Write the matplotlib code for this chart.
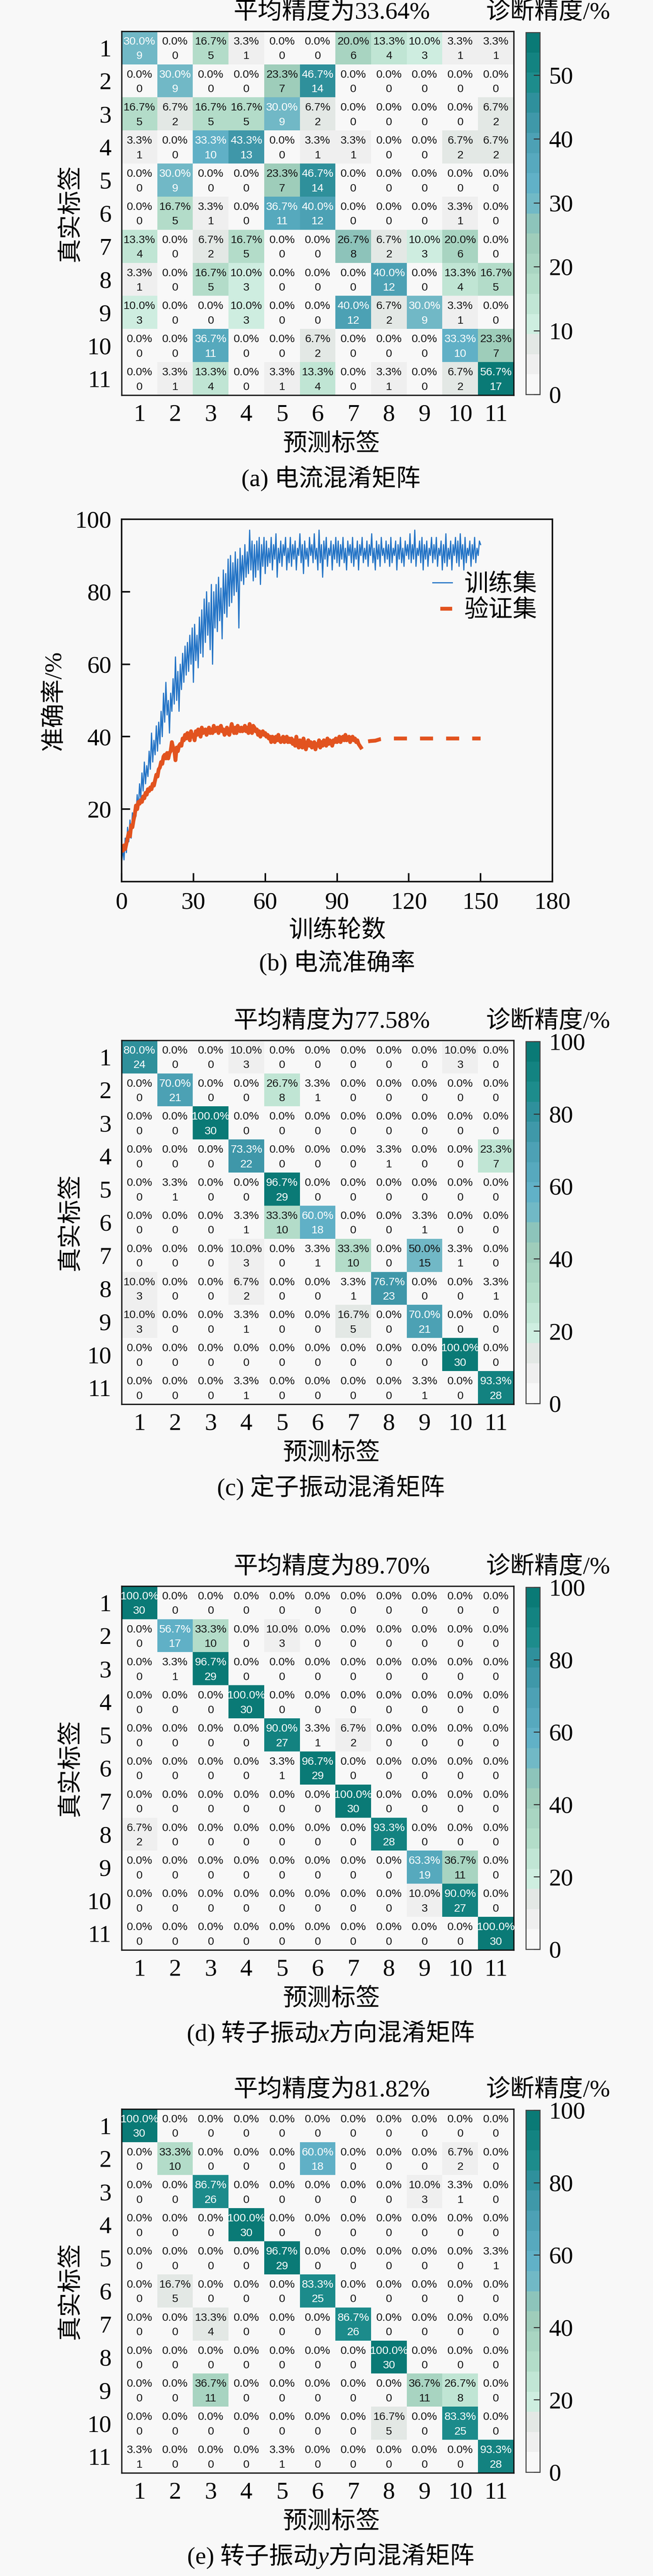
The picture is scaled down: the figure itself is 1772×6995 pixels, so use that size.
import numpy as np
import matplotlib
matplotlib.use('Agg')
import matplotlib.pyplot as plt
from matplotlib.colors import LinearSegmentedColormap
from matplotlib.offsetbox import TextArea, HPacker, AnnotationBbox

# ---------------- data ----------------
class_labels = ['1', '2', '3', '4', '5', '6', '7', '8', '9', '10', '11']

cm_current = [
    [9, 0, 5, 1, 0, 0, 6, 4, 3, 1, 1],
    [0, 9, 0, 0, 7, 14, 0, 0, 0, 0, 0],
    [5, 2, 5, 5, 9, 2, 0, 0, 0, 0, 2],
    [1, 0, 10, 13, 0, 1, 1, 0, 0, 2, 2],
    [0, 9, 0, 0, 7, 14, 0, 0, 0, 0, 0],
    [0, 5, 1, 0, 11, 12, 0, 0, 0, 1, 0],
    [4, 0, 2, 5, 0, 0, 8, 2, 3, 6, 0],
    [1, 0, 5, 3, 0, 0, 0, 12, 0, 4, 5],
    [3, 0, 0, 3, 0, 0, 12, 2, 9, 1, 0],
    [0, 0, 11, 0, 0, 2, 0, 0, 0, 10, 7],
    [0, 1, 4, 0, 1, 4, 0, 1, 0, 2, 17],
]

cm_stator = [
    [24, 0, 0, 3, 0, 0, 0, 0, 0, 3, 0],
    [0, 21, 0, 0, 8, 1, 0, 0, 0, 0, 0],
    [0, 0, 30, 0, 0, 0, 0, 0, 0, 0, 0],
    [0, 0, 0, 22, 0, 0, 0, 1, 0, 0, 7],
    [0, 1, 0, 0, 29, 0, 0, 0, 0, 0, 0],
    [0, 0, 0, 1, 10, 18, 0, 0, 1, 0, 0],
    [0, 0, 0, 3, 0, 1, 10, 0, 15, 1, 0],
    [3, 0, 0, 2, 0, 0, 1, 23, 0, 0, 1],
    [3, 0, 0, 1, 0, 0, 5, 0, 21, 0, 0],
    [0, 0, 0, 0, 0, 0, 0, 0, 0, 30, 0],
    [0, 0, 0, 1, 0, 0, 0, 0, 1, 0, 28],
]

cm_rotor_x = [
    [30, 0, 0, 0, 0, 0, 0, 0, 0, 0, 0],
    [0, 17, 10, 0, 3, 0, 0, 0, 0, 0, 0],
    [0, 1, 29, 0, 0, 0, 0, 0, 0, 0, 0],
    [0, 0, 0, 30, 0, 0, 0, 0, 0, 0, 0],
    [0, 0, 0, 0, 27, 1, 2, 0, 0, 0, 0],
    [0, 0, 0, 0, 1, 29, 0, 0, 0, 0, 0],
    [0, 0, 0, 0, 0, 0, 30, 0, 0, 0, 0],
    [2, 0, 0, 0, 0, 0, 0, 28, 0, 0, 0],
    [0, 0, 0, 0, 0, 0, 0, 0, 19, 11, 0],
    [0, 0, 0, 0, 0, 0, 0, 0, 3, 27, 0],
    [0, 0, 0, 0, 0, 0, 0, 0, 0, 0, 30],
]

cm_rotor_y = [
    [30, 0, 0, 0, 0, 0, 0, 0, 0, 0, 0],
    [0, 10, 0, 0, 0, 18, 0, 0, 0, 2, 0],
    [0, 0, 26, 0, 0, 0, 0, 0, 3, 1, 0],
    [0, 0, 0, 30, 0, 0, 0, 0, 0, 0, 0],
    [0, 0, 0, 0, 29, 0, 0, 0, 0, 0, 1],
    [0, 5, 0, 0, 0, 25, 0, 0, 0, 0, 0],
    [0, 0, 4, 0, 0, 0, 26, 0, 0, 0, 0],
    [0, 0, 0, 0, 0, 0, 0, 30, 0, 0, 0],
    [0, 0, 11, 0, 0, 0, 0, 0, 11, 8, 0],
    [0, 0, 0, 0, 0, 0, 0, 5, 0, 25, 0],
    [1, 0, 0, 0, 1, 0, 0, 0, 0, 0, 28],
]

# training accuracy (%), one value every 0.5 epoch from epoch 0 to 150
train_acc = [
    5, 9, 6, 12, 8, 15, 11, 17, 12, 19, 15,
    21, 18, 24, 20, 27, 23, 30, 25, 33, 27,
    32, 29, 36, 31, 41, 33, 39, 35, 43, 36,
    44, 38, 47, 40, 52, 44, 55, 46, 50, 41,
    52, 47, 56, 49, 62, 50, 58, 47, 60, 53,
    63, 55, 65, 57, 66, 58, 68, 60, 70, 55,
    71, 61, 68, 59, 73, 63, 75, 62, 78, 66,
    80, 68, 77, 64, 82, 60, 80, 70, 82, 69,
    84, 72, 81, 67, 86, 74, 85, 73, 89, 76,
    90, 77, 88, 79, 91, 80, 89, 70, 92, 83,
    90, 82, 93, 84, 91, 85, 97, 86, 94, 83,
    93, 84, 94, 86, 95, 82, 93, 87, 95, 85,
    94, 87, 92, 88, 95, 86, 93, 89, 96, 84, 92, 88, 94, 87, 93, 90, 95, 86, 92, 88,
    95, 87, 93, 89, 94, 86, 92, 90, 96, 88, 93, 85, 94, 89, 92, 87, 95, 90, 93, 88,
    96, 89, 92, 86, 97, 88, 93, 84, 94, 89, 95, 87, 92, 90, 94, 86, 93, 89, 95, 88,
    94, 87, 93, 89, 95, 88, 92, 86, 94, 90, 93, 88, 95, 87, 92, 89, 94, 86, 93, 90,
    95, 88, 92, 89, 94, 87, 93, 90, 96, 88, 92, 86, 94, 89, 93, 87, 95, 90, 92, 88,
    94, 89, 93, 87, 95, 88, 92, 90, 94, 86, 93, 89, 95, 88, 92, 87, 94, 90, 93, 89,
    96, 88, 93, 89, 97, 87, 92, 90, 94, 88, 95, 86, 93, 89, 94, 87, 92, 90, 95, 88,
    93, 89, 95, 87, 92, 90, 94, 86, 93, 88, 96, 87, 92, 89, 94, 86, 93, 90, 95, 88,
    94, 87, 96, 89, 93, 86, 95, 88, 92, 90, 94, 87, 93, 89, 95, 88, 92, 90, 94, 93,
]

# validation accuracy (%), every 0.5 epoch from epoch 0 to 100
val_acc = [
    9.5, 8.5, 10, 9, 10.5, 12, 13.5, 12.5, 15.5, 15, 17, 18.5, 21, 20, 22, 21.5, 22.5, 22, 23.5, 23, 24.5,
    24, 25.5, 25, 26, 25.5, 27, 26.5, 28, 29.5, 29, 31, 31.5, 33, 32.5, 34.5, 35, 34, 35.5, 34, 35.5,
    36, 38.5, 37, 36.5, 33.5, 37, 36, 37.5, 38, 37.5, 39.5, 39, 40.5, 39.5, 41, 40, 39, 41.5, 40, 40.5,
    39, 41.5, 40.5, 42, 41, 40, 42.5, 41, 41.5, 42, 40.5, 41.5, 42.5, 41, 42, 41, 43, 41.5, 42, 42.5,
    41, 42.5, 43, 41.5, 42, 40.5, 41, 42.5, 41, 40.5, 42, 43.5, 42, 41, 42.5, 41, 43, 42, 41.5, 42.5,
    41.5, 42, 43, 41.5, 42.5, 41, 43.5, 42, 41, 43, 42.5, 41.5, 42, 40.5, 41.5, 40, 41, 41.5, 40.5, 41,
    40, 40.5, 39.5, 40, 38.5, 40, 39.5, 38.5, 40, 39, 40.5, 39, 38.5, 39.5, 40, 38.5, 39, 40, 38.5, 39.5,
    38.5, 39.5, 38, 39, 37.5, 40, 38, 37, 39, 38.5, 37, 39.5, 38, 36.5, 38, 39, 37.5, 38.5, 37, 37.5,
    38.5, 36.5, 38, 37.5, 39, 37, 38.5, 37.5, 39, 38, 37.5, 39.5, 38, 39, 38.5, 37.5, 39, 38.5, 39.5, 38.5,
    39, 40, 38.5, 39.5, 40, 39, 40.5, 39, 39.5, 40, 38.5, 39.5, 40, 39, 39.5, 38.5, 39, 38, 37.5, 37,
]
# validation accuracy after epoch 100 (sparse, flat)
val_tail_epochs = [100, 102, 104, 106, 108, 110, 150]
val_tail_acc = [38.0, 38.6, 38.8, 38.9, 39.3, 39.5, 39.5]

# ---------------- style ----------------
W, H = 1772, 6995
DPI = 500
BG = '#f8f8f8'
SER = ['Liberation Serif', 'Noto Sans CJK SC']
SANS = ['Liberation Sans', 'DejaVu Sans']
FS = 9.5
CELL_FS = 4.4
MAT_L, MAT_R, MAT_H = 330, 1394, 988
CB_L, CB_R = 1427, 1465

cmap = LinearSegmentedColormap.from_list('cm', [
    (0.00, '#f8f8f8'), (0.06, '#efefef'), (0.12, '#e3e8e5'), (0.18, '#cdeee0'),
    (0.30, '#b2dcc8'), (0.45, '#98c8b6'), (0.52, '#74bac6'), (0.58, '#62b2c8'),
    (0.70, '#4ea2b6'), (0.80, '#3792a2'), (0.88, '#1d8c8c'), (1.00, '#0a7a76')], N=18)

plt.rcParams['font.family'] = SER

fig = plt.figure(figsize=(W / DPI, H / DPI), dpi=DPI, facecolor=BG)


def rect(l, t, r, b):
    return [l / W, 1 - b / H, (r - l) / W, (b - t) / H]


def ftext(x, y, s, **kw):
    kw.setdefault('family', SER)
    kw.setdefault('fontsize', FS)
    kw.setdefault('ha', 'center')
    kw.setdefault('va', 'center')
    fig.text(x / W, 1 - y / H, s, **kw)


def caption(x, y, parts):
    boxes = []
    for s, st in parts:
        boxes.append(TextArea(s, textprops=dict(family=SER, fontsize=FS, style=st)))
    pk = HPacker(children=boxes, align='baseline', pad=0, sep=0)
    ab = AnnotationBbox(pk, (x / W, 1 - y / H), xycoords='figure fraction',
                        frameon=False, box_alignment=(0.5, 0.5), pad=0,
                        annotation_clip=False)
    fig.add_artist(ab)


def draw_cm(counts, top, parts, cb_ticks):
    counts = np.array(counts)
    pct = counts / counts.sum(axis=1, keepdims=True) * 100
    vmax = pct.max()
    bottom = top + MAT_H
    ax = fig.add_axes(rect(MAT_L, top, MAT_R, bottom))
    ax.set_facecolor(BG)
    im = ax.imshow(pct, cmap=cmap, vmin=0, vmax=vmax, aspect='auto',
                   interpolation='nearest')
    n = len(counts)
    for i in range(n):
        for j in range(n):
            col = 'white' if pct[i, j] > vmax / 2 else '#151515'
            ax.text(j, i - 0.19, f'{pct[i, j]:.1f}%', ha='center', va='center',
                    fontsize=CELL_FS, family=SANS, color=col)
            ax.text(j, i + 0.25, f'{counts[i, j]}', ha='center', va='center',
                    fontsize=CELL_FS, family=SANS, color=col)
    ax.set_xticks(range(n))
    ax.set_xticklabels(class_labels, fontsize=FS, family=SER)
    ax.set_yticks(range(n))
    ax.set_yticklabels(class_labels, fontsize=FS, family=SER)
    ax.tick_params(axis='x', length=0, pad=3.5)
    ax.tick_params(axis='y', length=0, pad=4)
    for sp in ax.spines.values():
        sp.set_linewidth(0.5)
        sp.set_color('#111111')
    acc = np.trace(counts) / counts.sum() * 100
    ftext(900, top - 50, f'平均精度为{acc:.2f}%')
    ftext(1488, top - 50, '诊断精度/%')
    ftext(192, top + MAT_H / 2, '真实标签', rotation=90)
    ftext(900, bottom + 134, '预测标签')
    caption(898, bottom + 226, parts)
    cax = fig.add_axes(rect(CB_L, top + 3, CB_R, bottom - 2))
    cb = fig.colorbar(im, cax=cax, ticks=cb_ticks)
    cb.outline.set_linewidth(0.4)
    cb.outline.set_edgecolor('#444444')
    cax.tick_params(direction='in', length=2.5, width=0.4, color='#333333',
                    labelsize=FS, pad=3.5)
    for t in cax.get_yticklabels():
        t.set_family(SER)
    return ax


draw_cm(cm_current, 85, [('(a) 电流混淆矩阵', 'normal')], [0, 10, 20, 30, 40, 50])
draw_cm(cm_stator, 2825, [('(c) 定子振动混淆矩阵', 'normal')], [0, 20, 40, 60, 80, 100])
draw_cm(cm_rotor_x, 4307, [('(d) 转子振动', 'normal'), ('x', 'italic'), ('方向混淆矩阵', 'normal')],
        [0, 20, 40, 60, 80, 100])
draw_cm(cm_rotor_y, 5727, [('(e) 转子振动', 'normal'), ('y', 'italic'), ('方向混淆矩阵', 'normal')],
        [0, 20, 40, 60, 80, 100])

# ---------------- (b) accuracy curves ----------------
axb = fig.add_axes(rect(330, 1410, 1499, 2394))
axb.set_facecolor(BG)
train_epochs = np.arange(len(train_acc)) * 0.5
val_epochs = np.arange(len(val_acc)) * 0.5
l1, = axb.plot(train_epochs, train_acc, color='#2474c6', lw=0.45, label='训练集')
axb.plot(val_epochs, val_acc, color='#e2531f', lw=1.5, solid_joinstyle='round')
l2, = axb.plot(val_tail_epochs, val_tail_acc, color='#e2531f', lw=1.5,
               ls=(4.8, (3.4, 3.4)), label='验证集')
axb.set_xlim(0, 180)
axb.set_ylim(0, 100)
axb.set_xticks([0, 30, 60, 90, 120, 150, 180])
axb.set_yticks([20, 40, 60, 80, 100])
axb.tick_params(direction='in', length=3.3, width=0.6, labelsize=FS, pad=4,
                top=False, right=False)
for t in axb.get_xticklabels() + axb.get_yticklabels():
    t.set_family(SER)
for sp in axb.spines.values():
    sp.set_linewidth(0.6)
    sp.set_color('#111111')
leg = axb.legend(handles=[l1, l2], loc='upper left', bbox_to_anchor=(0.722, 0.85),
                 frameon=False, borderpad=0, borderaxespad=0, handlelength=0.8,
                 handletextpad=0.5, labelspacing=0.15,
                 prop=dict(family=SER, size=FS))
ftext(147, 1902, '准确率/%', rotation=90)
ftext(915, 2528, '训练轮数')
ftext(915, 2614, '(b) 电流准确率')

fig.savefig('out.png', dpi=DPI, facecolor=BG)
